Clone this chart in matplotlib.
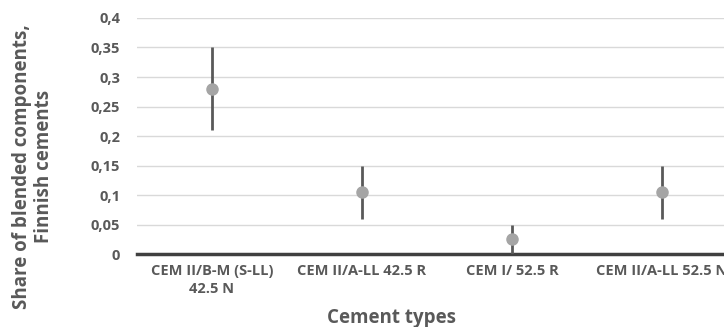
import numpy as np
import matplotlib
matplotlib.use("Agg")
import matplotlib.pyplot as plt
from matplotlib.ticker import FuncFormatter

# data
cement_types = ["CEM II/B-M (S-LL)\n42.5 N", "CEM II/A-LL 42.5 R", "CEM I/ 52.5 R", "CEM II/A-LL 52.5 N"]
share = [0.28, 0.105, 0.025, 0.105]
share_low = [0.21, 0.06, 0.0, 0.06]
share_high = [0.35, 0.15, 0.05, 0.15]
yticks = [0, 0.05, 0.1, 0.15, 0.2, 0.25, 0.3, 0.35, 0.4]

plt.rcParams['font.family'] = ['Open Sans', 'DejaVu Sans']

fig = plt.figure(figsize=(7.24, 3.27), dpi=100)
ax = fig.add_axes([0.189, 0.223, 0.829, 0.722])

x = np.arange(len(cement_types))
share = np.array(share)
err = [share - np.array(share_low), np.array(share_high) - share]

ax.errorbar(x, share, yerr=err, fmt='o', color='#a5a5a5', ecolor='#595959',
            elinewidth=2, capsize=0, markersize=8, zorder=3)

ax.set_xlim(-0.5, len(cement_types) - 0.5)
ax.set_ylim(0, 0.4)
ax.set_yticks(yticks)
ax.yaxis.set_major_formatter(FuncFormatter(lambda v, p: ('%g' % round(v, 2)).replace('.', ',')))
ax.set_xticks(x)
ax.set_xticklabels(cement_types)

ax.grid(axis='y', color='#d9d9d9', linewidth=1)
ax.set_axisbelow(True)
for s in ['top', 'right', 'left']:
    ax.spines[s].set_visible(False)
ax.spines['bottom'].set_color('#404040')
ax.spines['bottom'].set_linewidth(2.5)
ax.tick_params(length=0, colors='#595959')
ax.tick_params(axis='y', pad=12, labelsize=10.5)
ax.tick_params(axis='x', pad=7, labelsize=10.5)
for lab in ax.get_xticklabels() + ax.get_yticklabels():
    lab.set_fontweight('bold')
    lab.set_linespacing(1.4)

# axis titles placed in figure coords (chart is cropped on the right)
fig.text(0.541, 0.028, 'Cement types', fontsize=13.5, fontweight='bold',
         color='#595959', ha='center', va='center')
fig.text(0.046, 0.49, 'Share of blended components,\nFinnish cements', fontsize=13.5,
         fontweight='bold', color='#595959', rotation=90, ha='center', va='center',
         multialignment='center', linespacing=1.15)

fig.savefig('out.png', dpi=100)
